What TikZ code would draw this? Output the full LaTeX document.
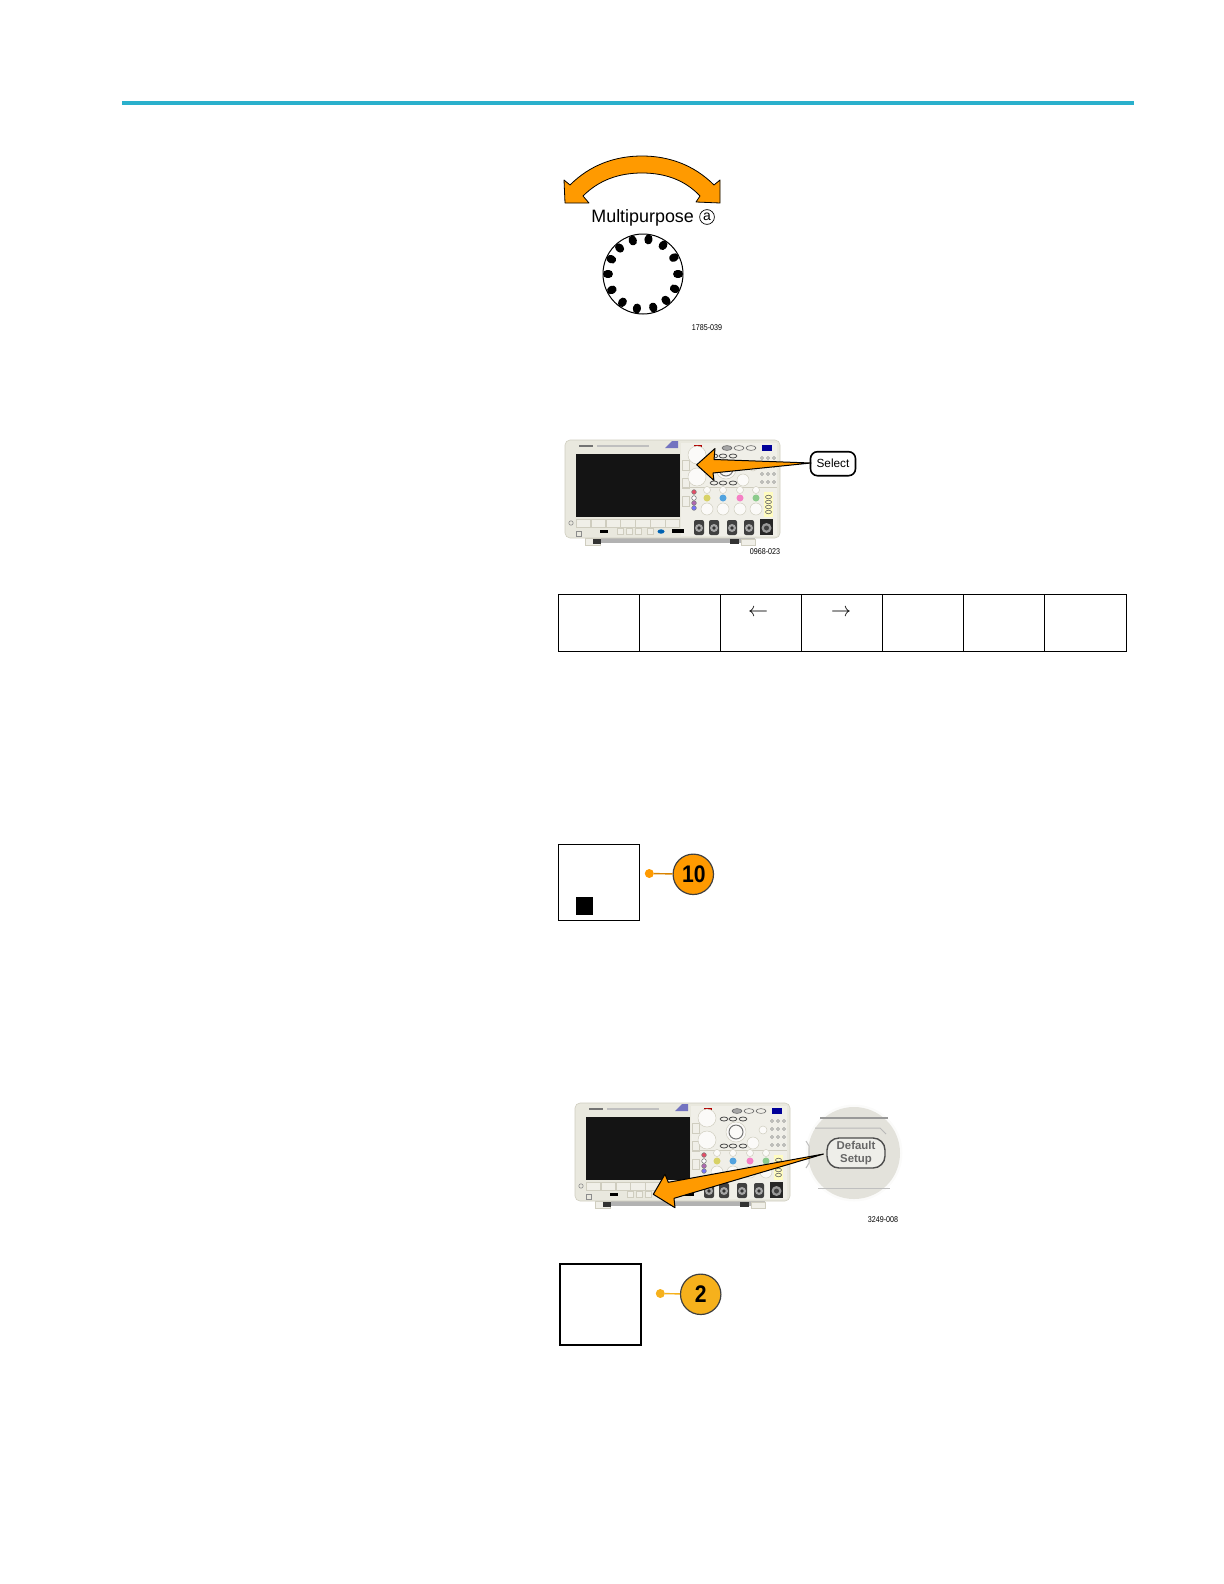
\documentclass[tikz,border=0pt]{standalone}
\usepackage{fontspec}
\setmainfont{Liberation Sans}
\usepackage{xcolor}
\usepackage{tikz}
\definecolor{rulecyan}{HTML}{2AB0CC}
\definecolor{callorange}{HTML}{FF9A00}
\definecolor{callyellow}{HTML}{F6B11C}
\definecolor{unitbody}{HTML}{E9E8DE}
\definecolor{unitpanel}{HTML}{F0EFE8}
\definecolor{unitedge}{HTML}{CFCDBF}
\definecolor{lensgrey}{HTML}{E3E2DB}
\tikzset{
    figno/.style={inner sep=0pt, font=\fontsize{4.2}{5}\selectfont, xscale=0.85},
    softkey/.style={draw=unitedge, fill=unitpanel, line width=0.3pt},
    knob/.style={draw=unitedge, fill=white!80!unitbody, line width=0.25pt},
    calldot/.style={circle, inner sep=0pt, minimum size=4.5pt},
    callnum/.style={circle, draw=black!75, line width=0.6pt, inner sep=0pt, minimum size=20.2pt},
    bignum/.style={inner sep=0pt, font=\fontsize{12}{13}\bfseries\selectfont, xscale=0.88},
}
\newcommand{\drawunit}[1]{
    \begin{scope}[shift={#1}]
        % foot and case
        \fill[black!30] (20, 97) rectangle (190, 103);
        \filldraw[draw=unitedge, fill=unitpanel, line width=0.3pt] (20, 98) rectangle (35, 105);
        \fill[black!80] (28, 99) rectangle (36, 104);
        \fill[black!80] (165, 99) rectangle (174, 104);
        \filldraw[draw=unitedge, fill=unitpanel, line width=0.3pt] (176, 99) rectangle (190, 105);
        \filldraw[draw=unitedge, fill=unitbody, line width=0.3pt, rounded corners=2.5pt] (0, 0) rectangle (215, 98);
        \fill[unitpanel] (116, 3) rectangle (212, 96);
        \draw[black!55, line width=0.7pt] (14, 6) -- (28, 6);
        \draw[black!25, line width=0.6pt] (32, 6) -- (84, 6);
        \fill[black!45!blue!55!white] (100, 8) -- (107, 1) -- (113, 1) -- (113, 8) -- cycle;
        % screen and soft keys
        \fill[black!92] (11, 14) rectangle (115, 77);
        \foreach \k in {0,...,6}
            \draw[softkey] ({11 + 14.9*\k}, 79) rectangle ({25.3 + 14.9*\k}, 87);
        \draw[black!45, line width=0.3pt] (6, 83) circle (2.2);
        \draw[black!45, line width=0.4pt] (11.5, 91) rectangle (16.5, 96);
        \fill[black] (35, 90) rectangle (43, 93);
        \foreach \x in {52, 61, 70, 82}
            \draw[softkey] (\x, 88) rectangle (\x + 6, 94);
        \fill[blue!45!cyan!70!black] (96, 91.5) ellipse (3.5 and 2.2);
        \fill[black] (107, 89) rectangle (119, 93);
        % side buttons
        \foreach \y in {20, 38, 56}
            \draw[softkey] (117, \y) rectangle (124, \y + 10);
        % top row
        \fill[red!70!black] (129, 5) rectangle (137, 7);
        \filldraw[draw=black!60, fill=black!35, line width=0.3pt] (162, 8) ellipse (5 and 2.4);
        \draw[black!60, line width=0.3pt] (174, 8) ellipse (5 and 2.4);
        \draw[black!60, line width=0.3pt] (186, 8) ellipse (5 and 2.4);
        \fill[blue!60!black] (197, 5) rectangle (207, 11);
        % knobs
        \filldraw[knob] (132, 15) circle (9);
        \filldraw[knob] (132, 37) circle (9);
        \filldraw[knob] (161, 29) circle (10);
        \draw[black!55, line width=0.5pt] (161, 29) circle (7);
        \filldraw[knob] (178, 40) circle (6);
        \filldraw[knob] (188, 27) circle (4);
        \foreach \x in {149, 158, 168} {
            \draw[black!70, line width=0.4pt] (\x, 16) ellipse (3.8 and 2);
            \draw[black!70, line width=0.4pt] (\x, 43) ellipse (3.8 and 2);
        }
        \foreach \x in {197, 203, 209}
            \foreach \y in {18, 26, 34, 42}
                \draw[black!45, line width=0.3pt] (\x, \y) circle (1.5);
        \draw[unitedge, line width=0.4pt] (118, 47) -- (212, 47);
        % channel colours
        \foreach \y/\c in {52/red!45!purple!70, 58/white, 63/violet!60, 68/blue!55}
            \filldraw[draw=black!50, fill=\c, line width=0.3pt] (129, \y) circle (2.3);
        \foreach \x/\c in {142/yellow!75!black!70, 158/cyan!70!blue!70, 175/magenta!50, 191/green!55!black!45} {
            \filldraw[knob] (\x, 50) circle (3.5);
            \fill[\c] (\x, 58) circle (3.5);
            \filldraw[knob] (\x, 69) circle (6);
        }
        \fill[yellow!25] (199, 52) rectangle (208, 77);
        \foreach \y in {57, 62, 67, 72}
            \draw[black!60, line width=0.3pt] (203.5, \y) ellipse (3 and 1.8);
        % connectors on the front
        \foreach \x in {134, 149, 167, 184} {
            \fill[black!75, rounded corners=1pt] (\x - 5, 80) rectangle (\x + 5, 95);
            \fill[black!35] (\x, 88) circle (4);
            \fill[black!80] (\x, 88) circle (1.8);
        }
        \fill[black!85] (195, 79) rectangle (208, 95);
        \fill[black!40] (201.5, 88) circle (5);
        \fill[black!75] (201.5, 88) circle (2.5);
    \end{scope}
}

\begin{document}
\begin{tikzpicture}[x=0.5pt, y=-0.5pt]
        \useasboundingbox (0, 0) rectangle (1224, 1584);

        \fill[rulecyan] (122, 100.7) rectangle (1134, 104.7);

        % multipurpose knob
        \filldraw[draw=black, fill=callorange, line width=0.4pt, line join=round]
            (564, 180) -- (570, 185) .. controls (590, 165) and (615, 156) .. (642, 156)
            .. controls (669, 156) and (694, 165) .. (714, 185) -- (720, 180) -- (720, 203)
            -- (696, 202) -- (700, 196) .. controls (685, 180) and (665, 173) .. (642, 173)
            .. controls (619, 173) and (599, 180) .. (583, 196) -- (589, 203) -- (565, 203) -- cycle;
        \node (multitext) [anchor=base west, inner sep=0pt, font=\fontsize{8.95}{10}\selectfont] at (591, 222) {Multipurpose};
        \node (multimark) [circle, draw, line width=0.35pt, inner sep=0pt, minimum size=7.4pt, font=\fontsize{7}{7}\selectfont] at (707, 217) {a};
        \draw[line width=0.5pt] (643, 274) circle (40);
        \foreach \a in {107, 81, 55, 28, 0, -25, -49, -73, -100, -126, -153, 180, 155, 132}
            \draw[line width=3.9pt, line cap=round]
                ({643 + 36*cos(\a)}, {274 - 36*sin(\a)}) -- ({643 + 34*cos(\a)}, {274 - 34*sin(\a)});
        \node (figone) [figno] at (707, 327.5) {1785-039};

        % first unit
        \drawunit{(565, 440)}
        \filldraw[draw=black, fill=callorange, line width=0.5pt, line join=round]
            (696.7, 464.8) -- (715, 448.5) -- (714, 459.5) -- (811, 463) -- (713, 473) -- (714, 480.5) -- cycle;
        \node (selectkey) [draw, line width=0.8pt, rounded corners=3.5pt, minimum width=22.5pt, minimum height=12pt,
            inner sep=0pt, font=\fontsize{5.9}{7}\selectfont] at (833, 463.7) {Select};
        \node (figtwo) [figno] at (765, 551.5) {0968-023};

        % menu row
        \foreach \x/\xn in {558.3/639.7, 639.7/720.7, 720.7/801.7, 801.7/882.7, 882.7/963.7, 963.7/1044.7, 1044.7/1126}
            \draw[line width=0.5pt] (\x, 594.3) rectangle (\xn, 651);
        \node (backarrow) [inner sep=0pt] at (758, 613) {$\leftarrow$};
        \node (nextarrow) [inner sep=0pt] at (841, 613) {$\rightarrow$};

        % callout ten
        \draw[line width=0.5pt] (558.3, 844.3) rectangle (639.3, 920);
        \fill (576, 897) rectangle (593, 915);
        \node (dotten) [calldot, fill=callorange] at (649.3, 873.5) {};
        \node (numten) [callnum, fill=callorange] at (693.3, 874.3) {};
        \node (textten) [bignum] at (693.8, 874.3) {10};
        \draw[callorange!85!black, line width=0.7pt] (dotten) -- (numten);

        % second unit
        \drawunit{(575, 1103)}
        \fill[white!85!lensgrey] (854, 1153) circle (48.5);
        \fill[lensgrey] (854, 1153) circle (46);
        \fill[black!40] (820, 1116.5) rectangle (888, 1119);
        \draw[black!28, line width=0.5pt] (815, 1128) -- (880, 1128) -- (886, 1134);
        \draw[black!25, line width=0.5pt] (806, 1141) -- (809, 1146) -- (809, 1163) -- (806, 1168);
        \draw[black!25, line width=0.5pt] (818, 1188) -- (890, 1188);
        \node (defaultkey) [draw=black!70, fill=lensgrey!60!white, line width=0.7pt, rounded corners=6pt, minimum width=29pt, minimum height=15pt,
            inner sep=0pt, align=center, text=black!60, font=\fontsize{5.7}{6.1}\bfseries\selectfont] at (856, 1153) {Default\\Setup};
        \filldraw[draw=black, fill=callorange, line width=0.5pt, line join=round]
            (653.3, 1194.3) -- (665, 1174.3) -- (668.3, 1182.3) -- (823.5, 1154) -- (674, 1198.3) -- (675, 1207.7) -- cycle;
        \node (figthree) [figno] at (883, 1219.5) {3249-008};

        % callout two
        \draw[line width=1pt] (560, 1264) rectangle (641, 1345);
        \node (dottwo) [calldot, fill=callyellow] at (660.3, 1293.5) {};
        \node (numtwo) [callnum, fill=callyellow] at (700.7, 1294.3) {};
        \node (texttwo) [bignum] at (700.7, 1294.3) {2};
        \draw[callyellow, line width=0.7pt] (dottwo) -- (numtwo);
\end{tikzpicture}
\end{document}
